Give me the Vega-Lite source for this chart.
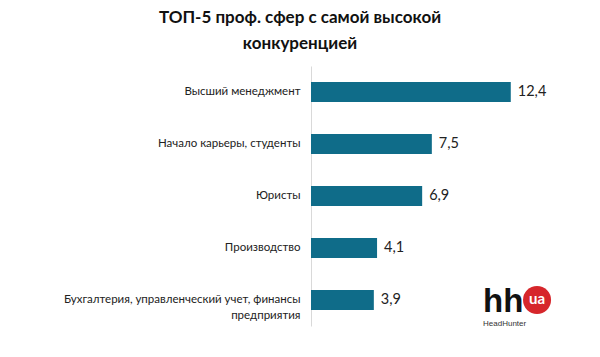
{
  "$schema": "https://vega.github.io/schema/vega-lite/v6.json",
  "autosize": {"type": "none"},
  "width": 290,
  "height": 260,
  "padding": {"left": 311, "top": 66, "right": 0, "bottom": 31},
  "background": "white",
  "title": {
    "text": ["ТОП-5 проф. сфер с самой высокой", "конкуренцией"],
    "font": "Lato",
    "fontSize": 17,
    "fontWeight": "bold",
    "color": "#111111",
    "lineHeight": 26,
    "anchor": "middle",
    "dx": -156,
    "offset": 13
  },
  "config": {
    "view": {"stroke": null},
    "locale": {"number": {"decimal": ",", "thousands": " ", "grouping": [3], "currency": ["", ""]}}
  },
  "datasets": {
    "bars": [
      {"label": "Высший менеджмент", "value": 12.4},
      {"label": "Начало карьеры, студенты", "value": 7.5},
      {"label": "Юристы", "value": 6.9},
      {"label": "Производство", "value": 4.1},
      {"label": "Бухгалтерия, управленческий учет, финансы предприятия", "value": 3.9}
    ],
    "logo": [
      {"label": "Бухгалтерия, управленческий учет, финансы предприятия", "x": 10.68, "part": "hh"},
      {"label": "Бухгалтерия, управленческий учет, финансы предприятия", "x": 10.68, "part": "HeadHunter"},
      {"label": "Бухгалтерия, управленческий учет, финансы предприятия", "x": 14.03, "part": "ua"}
    ]
  },
  "encoding": {
    "y": {
      "field": "label",
      "type": "nominal",
      "sort": null,
      "scale": {"paddingInner": 0.615, "paddingOuter": 0.3075},
      "axis": {
        "title": null,
        "ticks": false,
        "domainColor": "#d9d9d9",
        "labelFont": "Lato",
        "labelFontSize": 11.5,
        "labelColor": "#222222",
        "labelPadding": 11,
        "labelLimit": 300,
        "labelLineHeight": 16,
        "labelExpr": "datum.value == 'Бухгалтерия, управленческий учет, финансы предприятия' ? ['Бухгалтерия, управленческий учет, финансы', 'предприятия'] : datum.value"
      }
    }
  },
  "layer": [
    {
      "data": {"name": "bars"},
      "mark": {"type": "bar", "color": "#0f6c89"},
      "encoding": {
        "x": {"field": "value", "type": "quantitative", "scale": {"domain": [0, 18]}, "axis": null}
      }
    },
    {
      "data": {"name": "bars"},
      "mark": {"type": "text", "align": "left", "dx": 7, "font": "Lato", "fontSize": 14.5, "color": "#222222"},
      "encoding": {
        "x": {"field": "value", "type": "quantitative"},
        "text": {"field": "value", "type": "quantitative", "format": ".1f"}
      }
    },
    {
      "data": {"name": "logo"},
      "transform": [{"filter": "datum.part == 'ua'"}],
      "mark": {"type": "point", "shape": "circle", "filled": true, "color": "#d6262b", "size": 784, "opacity": 1},
      "encoding": {"x": {"field": "x", "type": "quantitative"}}
    },
    {
      "data": {"name": "logo"},
      "transform": [{"filter": "datum.part == 'ua'"}],
      "mark": {"type": "text", "align": "center", "baseline": "middle", "dy": -1, "font": "Lato", "fontSize": 15, "fontWeight": "bold", "color": "white"},
      "encoding": {"x": {"field": "x", "type": "quantitative"}, "text": {"field": "part"}}
    },
    {
      "data": {"name": "logo"},
      "transform": [{"filter": "datum.part == 'hh'"}],
      "mark": {"type": "text", "align": "left", "baseline": "alphabetic", "dy": 12, "font": "Liberation Sans", "fontSize": 33, "fontWeight": "bold", "color": "#111111", "letterSpacing": -1},
      "encoding": {"x": {"field": "x", "type": "quantitative"}, "text": {"field": "part"}}
    },
    {
      "data": {"name": "logo"},
      "transform": [{"filter": "datum.part == 'HeadHunter'"}],
      "mark": {"type": "text", "align": "left", "baseline": "alphabetic", "dy": 26, "font": "Liberation Sans", "fontSize": 8, "color": "#333333"},
      "encoding": {"x": {"field": "x", "type": "quantitative"}, "text": {"field": "part"}}
    }
  ]
}
